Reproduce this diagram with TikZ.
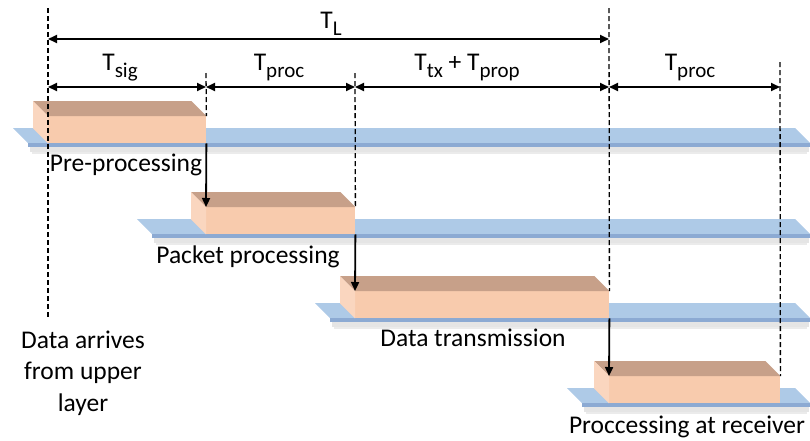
\documentclass[tikz,border=0pt]{standalone}
\usepackage{fontspec}
\setmainfont{Carlito}
\usetikzlibrary{arrows.meta,calc}
\definecolor{boxfront}{HTML}{F8CBAD}
\definecolor{boxtop}{HTML}{C7A089}
\definecolor{boxside}{HTML}{FAD6BF}
\definecolor{bartop}{HTML}{AECAE7}
\definecolor{barfront}{HTML}{8CAAD3}
\newcommand\subtxt[1]{{\fontsize{21}{21}\selectfont\raisebox{-7pt}{#1}}}
% slab: xl = back-left x, xr = back-right x, yb = back y (depth 15)
\newcommand\slab[3]{%
  \fill[black,opacity=0.10] (#1+17,#3+19) rectangle (#2+14,#3+24);
  \fill[black,opacity=0.08] (#1+19,#3+24) rectangle (#2+12,#3+26);
  \fill[bartop] (#1,#3) -- (#2,#3) -- (#2+15,#3+15) -- (#1+15,#3+15) -- cycle;
  \fill[barfront] (#1+15,#3+15) rectangle (#2+15,#3+19);
}
\tikzset{
  lbl/.style={font=\fontsize{25.5}{31.5}\selectfont, inner sep=0pt, anchor=base},
  front/.style={fill=boxfront, draw=none, inner sep=0pt, anchor=north west, minimum height=27pt},
  topface/.style={fill=boxtop},
  sideface/.style={fill=boxside},
  dim/.style={line width=1.8pt, {Triangle[length=9pt,width=8pt]}-{Triangle[length=9pt,width=8pt]}},
  flow/.style={line width=1.8pt, -{Triangle[length=9pt,width=8pt]}},
  guide/.style={line width=1.3pt, dash pattern=on 5pt off 3pt}
}
\newcommand\prismfaces[1]{%
  \fill[topface] ($(#1.north west)+(-15,-15)$) -- ($(#1.north east)+(-15,-15)$) -- (#1.north east) -- (#1.north west) -- cycle;
  \fill[sideface] ($(#1.north west)+(-15,-15)$) -- (#1.north west) -- (#1.south west) -- ($(#1.south west)+(-15,-15)$) -- cycle;
}
\begin{document}
\begin{tikzpicture}[x=1pt,y=-1pt]
\useasboundingbox (0,0) rectangle (810,440);

% bars
\slab{13}{795}{128}
\slab{137}{795}{219}
\slab{315}{795}{303}
\slab{567}{795}{388}

% boxes
\node[front, minimum width=158pt] (b1) at (48,116) {};
\prismfaces{b1}
\node[front, minimum width=149pt] (b2) at (206,207) {};
\prismfaces{b2}
\node[front, minimum width=254pt] (b3) at (355,291) {};
\prismfaces{b3}
\node[front, minimum width=171pt] (b4) at (609,376) {};
\prismfaces{b4}

% guide coordinates
\coordinate (g0t) at (48,8);
\coordinate (g0b) at (48,318);
\coordinate (g1t) at (206,73);
\coordinate (g2t) at (355,73);
\coordinate (g3t) at (609,8);
\coordinate (g4t) at (780,62);

% dashed guides
\draw[guide] (g0t) -- (g0b);
\draw[guide] (g1t) -- (b1.north east);
\draw[guide] (g2t) -- (b2.north east);
\draw[guide] (g3t) -- (b3.north east);
\draw[guide] (g4t) -- (b4.north east);

% dimension lines
\coordinate (L0) at (48,39);
\coordinate (L1) at (609,39);
\coordinate (a0) at (48,87);
\coordinate (a1) at (206,87);
\coordinate (a2) at (355,87);
\coordinate (a3) at (609,87);
\coordinate (a4) at (780,87);
\draw[dim] (L0) -- (L1);
\draw[dim] (a0) -- (a1);
\draw[dim] (a1) -- (a2);
\draw[dim] (a2) -- (a3);
\draw[dim] (a3) -- (a4);

% flow arrows
\draw[flow] (b1.south east) -- (b2.north west);
\draw[flow] (b2.south east) -- (b3.north west);
\draw[flow] (b3.south east) -- (b4.north west);

% labels
\node[lbl] (tl) at (331,28) {T\subtxt{L}};
\node[lbl] (tsig) at (120,70) {T\subtxt{sig}};
\node[lbl] (tp1) at (279,70) {T\subtxt{proc}};
\node[lbl] (ttx) at (467,70) {T\subtxt{tx} + T\subtxt{prop}};
\node[lbl] (tp2) at (690,70) {T\subtxt{proc}};

\node[lbl] (pre) at (126,171) {Pre-processing};
\node[lbl] (pkt) at (248,263.5) {Packet processing};
\node[lbl] (dtx) at (473,346) {Data transmission};
\node[lbl] (rcv) at (687,433) {Proccessing at receiver};
\node[font=\fontsize{25.5}{31.5}\selectfont, inner sep=0pt, align=center] (arr) at (83,373) {Data arrives\\from upper\\layer};
\end{tikzpicture}
\end{document}
